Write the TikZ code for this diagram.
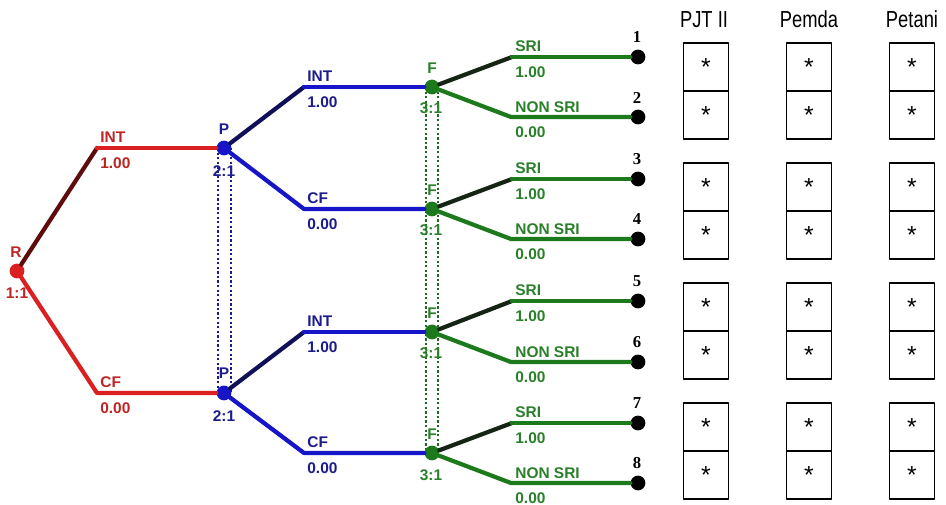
\documentclass[tikz,border=0pt]{standalone}
\usepackage{fontspec}
\setmainfont{Liberation Sans}
\newfontfamily\numfont{Liberation Serif}
\usepackage{xcolor}
\usepackage{graphicx}
\usepackage{tikz}
\usetikzlibrary{calc,backgrounds}

\definecolor{treered}{RGB}{218,32,32}
\definecolor{treedarkred}{RGB}{95,12,12}
\definecolor{treeblue}{RGB}{22,22,200}
\definecolor{treenavy}{RGB}{16,16,88}
\definecolor{treegreen}{RGB}{28,122,28}
\definecolor{treedarkgreen}{RGB}{22,36,22}
\definecolor{redtxt}{RGB}{190,36,36}
\definecolor{bluetxt}{RGB}{28,28,140}
\definecolor{greentxt}{RGB}{42,128,42}

\begin{document}
\begin{tikzpicture}[x=0.02cm,y=-0.02cm,line cap=round,line join=round,
  chance/.style={circle,inner sep=0pt,minimum size=8.4pt},
  endpt/.style={circle,inner sep=0pt,minimum size=8.4pt,fill=black},
  branch/.style={line width=2.4pt},
  tag/.style={font=\fontsize{8.8}{10}\selectfont\bfseries,anchor=base west,inner sep=0pt},
  ntag/.style={tag,anchor=base},
  num/.style={font=\numfont\bfseries\fontsize{9.5}{10}\selectfont,anchor=base,inner sep=0pt},
  head/.style={font=\fontsize{11}{13}\selectfont,anchor=base,inner sep=0pt},
  cell/.style={draw,line width=0.9pt,minimum width=0.9cm,minimum height=0.96cm,
    inner sep=0pt,text height=10pt,text depth=0pt,font=\fontsize{14}{15}\selectfont},
  infoset/.style={dash pattern=on 1.3pt off 1.3pt,line width=0.6pt}]

  \useasboundingbox (0,0) rectangle (946,504);

  % The tree
  \node [chance,fill=treered] (R) at (17,271) {};
  \node [chance,fill=treeblue] (P1) at (224,148) {};
  \node [chance,fill=treeblue] (P2) at (224,393) {};
  \node [chance,fill=treegreen] (F1) at (432,87) {};
  \node [chance,fill=treegreen] (F2) at (432,209) {};
  \node [chance,fill=treegreen] (F3) at (432,332) {};
  \node [chance,fill=treegreen] (F4) at (432,453) {};

  \node [endpt] (T1) at (638,57) {};
  \node [endpt] (T2) at (638,117) {};
  \node [endpt] (T3) at (638,179) {};
  \node [endpt] (T4) at (638,239) {};
  \node [endpt] (T5) at (638,301) {};
  \node [endpt] (T6) at (638,362) {};
  \node [endpt] (T7) at (638,423) {};
  \node [endpt] (T8) at (638,483) {};

  % Bends of the branches
  \coordinate (rint) at (97,148);
  \coordinate (rcf) at (97,393);
  \coordinate (bint1) at (304,87);
  \coordinate (bcf1) at (304,209);
  \coordinate (bint2) at (304,332);
  \coordinate (bcf2) at (304,453);
  \coordinate (gs1) at (512,57);
  \coordinate (gn1) at (511,117);
  \coordinate (gs2) at (512,179);
  \coordinate (gn2) at (511,239);
  \coordinate (gs3) at (512,301);
  \coordinate (gn3) at (511,362);
  \coordinate (gs4) at (512,423);
  \coordinate (gn4) at (511,483);

  % Branches
  \draw [branch,treedarkred] (R) -- (rint);
  \draw [branch,treered] (rint) -- (P1);
  \draw [branch,treered] (R) -- (rcf) -- (P2);

  \draw [branch,treenavy] (P1) -- (bint1);
  \draw [branch,treeblue] (bint1) -- (F1);
  \draw [branch,treeblue] (P1) -- (bcf1) -- (F2);
  \draw [branch,treenavy] (P2) -- (bint2);
  \draw [branch,treeblue] (bint2) -- (F3);
  \draw [branch,treeblue] (P2) -- (bcf2) -- (F4);

  \draw [branch,treedarkgreen] (F1) -- (gs1);
  \draw [branch,treegreen] (gs1) -- (T1);
  \draw [branch,treegreen] (F1) -- (gn1) -- (T2);
  \draw [branch,treedarkgreen] (F2) -- (gs2);
  \draw [branch,treegreen] (gs2) -- (T3);
  \draw [branch,treegreen] (F2) -- (gn2) -- (T4);
  \draw [branch,treedarkgreen] (F3) -- (gs3);
  \draw [branch,treegreen] (gs3) -- (T5);
  \draw [branch,treegreen] (F3) -- (gn3) -- (T6);
  \draw [branch,treedarkgreen] (F4) -- (gs4);
  \draw [branch,treegreen] (gs4) -- (T7);
  \draw [branch,treegreen] (F4) -- (gn4) -- (T8);

  % Information sets
  \begin{scope}[on background layer]
    \draw [infoset,bluetxt] ($(P1)+(-6,0)$) -- ($(P2)+(-6,0)$);
    \draw [infoset,bluetxt] ($(P1)+(7,0)$) -- ($(P2)+(7,0)$);
    \draw [infoset,greentxt!80!black] ($(F1)+(-6,0)$) -- ($(F4)+(-6,0)$);
    \draw [infoset,greentxt!80!black] ($(F1)+(6,0)$) -- ($(F4)+(6,0)$);
  \end{scope}

  % Node texts
  \node [ntag,redtxt] (Rname) at (16,257) {R};
  \node [ntag,redtxt] (Rodds) at (17,298) {1:1};
  \node [ntag,bluetxt] (P1name) at (224,134) {P};
  \node [ntag,bluetxt] (P1odds) at (224,176) {2:1};
  \node [ntag,bluetxt] (P2name) at (224,378) {P};
  \node [ntag,bluetxt] (P2odds) at (224,421) {2:1};
  \node [ntag,greentxt] (F1name) at (432,73) {F};
  \node [ntag,greentxt] (F1odds) at (431,113) {3:1};
  \node [ntag,greentxt] (F2name) at (432,195) {F};
  \node [ntag,greentxt] (F2odds) at (431,235) {3:1};
  \node [ntag,greentxt] (F3name) at (432,318) {F};
  \node [ntag,greentxt] (F3odds) at (431,358) {3:1};
  \node [ntag,greentxt] (F4name) at (432,439) {F};
  \node [ntag,greentxt] (F4odds) at (431,480) {3:1};

  % Branch texts
  \node [tag,redtxt] (rintname) at (100,142) {INT};
  \node [tag,redtxt] (rintval) at (100,168) {1.00};
  \node [tag,redtxt] (rcfname) at (100,387) {CF};
  \node [tag,redtxt] (rcfval) at (100,413) {0.00};

  \node [tag,bluetxt] (bint1name) at (307,81) {INT};
  \node [tag,bluetxt] (bint1val) at (307,107) {1.00};
  \node [tag,bluetxt] (bcf1name) at (307,203) {CF};
  \node [tag,bluetxt] (bcf1val) at (307,229) {0.00};
  \node [tag,bluetxt] (bint2name) at (307,326) {INT};
  \node [tag,bluetxt] (bint2val) at (307,352) {1.00};
  \node [tag,bluetxt] (bcf2name) at (307,447) {CF};
  \node [tag,bluetxt] (bcf2val) at (307,473) {0.00};

  \node [tag,greentxt] (gs1name) at (515,51) {SRI};
  \node [tag,greentxt] (gs1val) at (515,77) {1.00};
  \node [tag,greentxt] (gn1name) at (515,112) {NON SRI};
  \node [tag,greentxt] (gn1val) at (515,137) {0.00};
  \node [tag,greentxt] (gs2name) at (515,173) {SRI};
  \node [tag,greentxt] (gs2val) at (515,199) {1.00};
  \node [tag,greentxt] (gn2name) at (515,234) {NON SRI};
  \node [tag,greentxt] (gn2val) at (515,259) {0.00};
  \node [tag,greentxt] (gs3name) at (515,295) {SRI};
  \node [tag,greentxt] (gs3val) at (515,321) {1.00};
  \node [tag,greentxt] (gn3name) at (515,357) {NON SRI};
  \node [tag,greentxt] (gn3val) at (515,382) {0.00};
  \node [tag,greentxt] (gs4name) at (515,417) {SRI};
  \node [tag,greentxt] (gs4val) at (515,443) {1.00};
  \node [tag,greentxt] (gn4name) at (515,478) {NON SRI};
  \node [tag,greentxt] (gn4val) at (515,503) {0.00};

  % Outcome numbers
  \node [num] (n1) at (637,42) {1};
  \node [num] (n2) at (637,103) {2};
  \node [num] (n3) at (637,164) {3};
  \node [num] (n4) at (637,224) {4};
  \node [num] (n5) at (637,286) {5};
  \node [num] (n6) at (637,347) {6};
  \node [num] (n7) at (637,408) {7};
  \node [num] (n8) at (637,468) {8};

  % Payoff table
  \node [head] (hpjt) at (704,27) {\scalebox{0.95}[1.2]{PJT II}};
  \node [head] (hpemda) at (809,27) {\scalebox{0.95}[1.2]{Pemda}};
  \node [head] (hpetani) at (912,27) {\scalebox{0.95}[1.2]{Petani}};

  \node [cell] (a1) at (706,67) {*};
  \node [cell] (a2) at (706,115) {*};
  \node [cell] (a3) at (706,187) {*};
  \node [cell] (a4) at (706,235) {*};
  \node [cell] (a5) at (706,307) {*};
  \node [cell] (a6) at (706,355) {*};
  \node [cell] (a7) at (706,427) {*};
  \node [cell] (a8) at (706,475) {*};

  \node [cell] (b1) at (809,67) {*};
  \node [cell] (b2) at (809,115) {*};
  \node [cell] (b3) at (809,187) {*};
  \node [cell] (b4) at (809,235) {*};
  \node [cell] (b5) at (809,307) {*};
  \node [cell] (b6) at (809,355) {*};
  \node [cell] (b7) at (809,427) {*};
  \node [cell] (b8) at (809,475) {*};

  \node [cell] (c1) at (912,67) {*};
  \node [cell] (c2) at (912,115) {*};
  \node [cell] (c3) at (912,187) {*};
  \node [cell] (c4) at (912,235) {*};
  \node [cell] (c5) at (912,307) {*};
  \node [cell] (c6) at (912,355) {*};
  \node [cell] (c7) at (912,427) {*};
  \node [cell] (c8) at (912,475) {*};

\end{tikzpicture}
\end{document}
